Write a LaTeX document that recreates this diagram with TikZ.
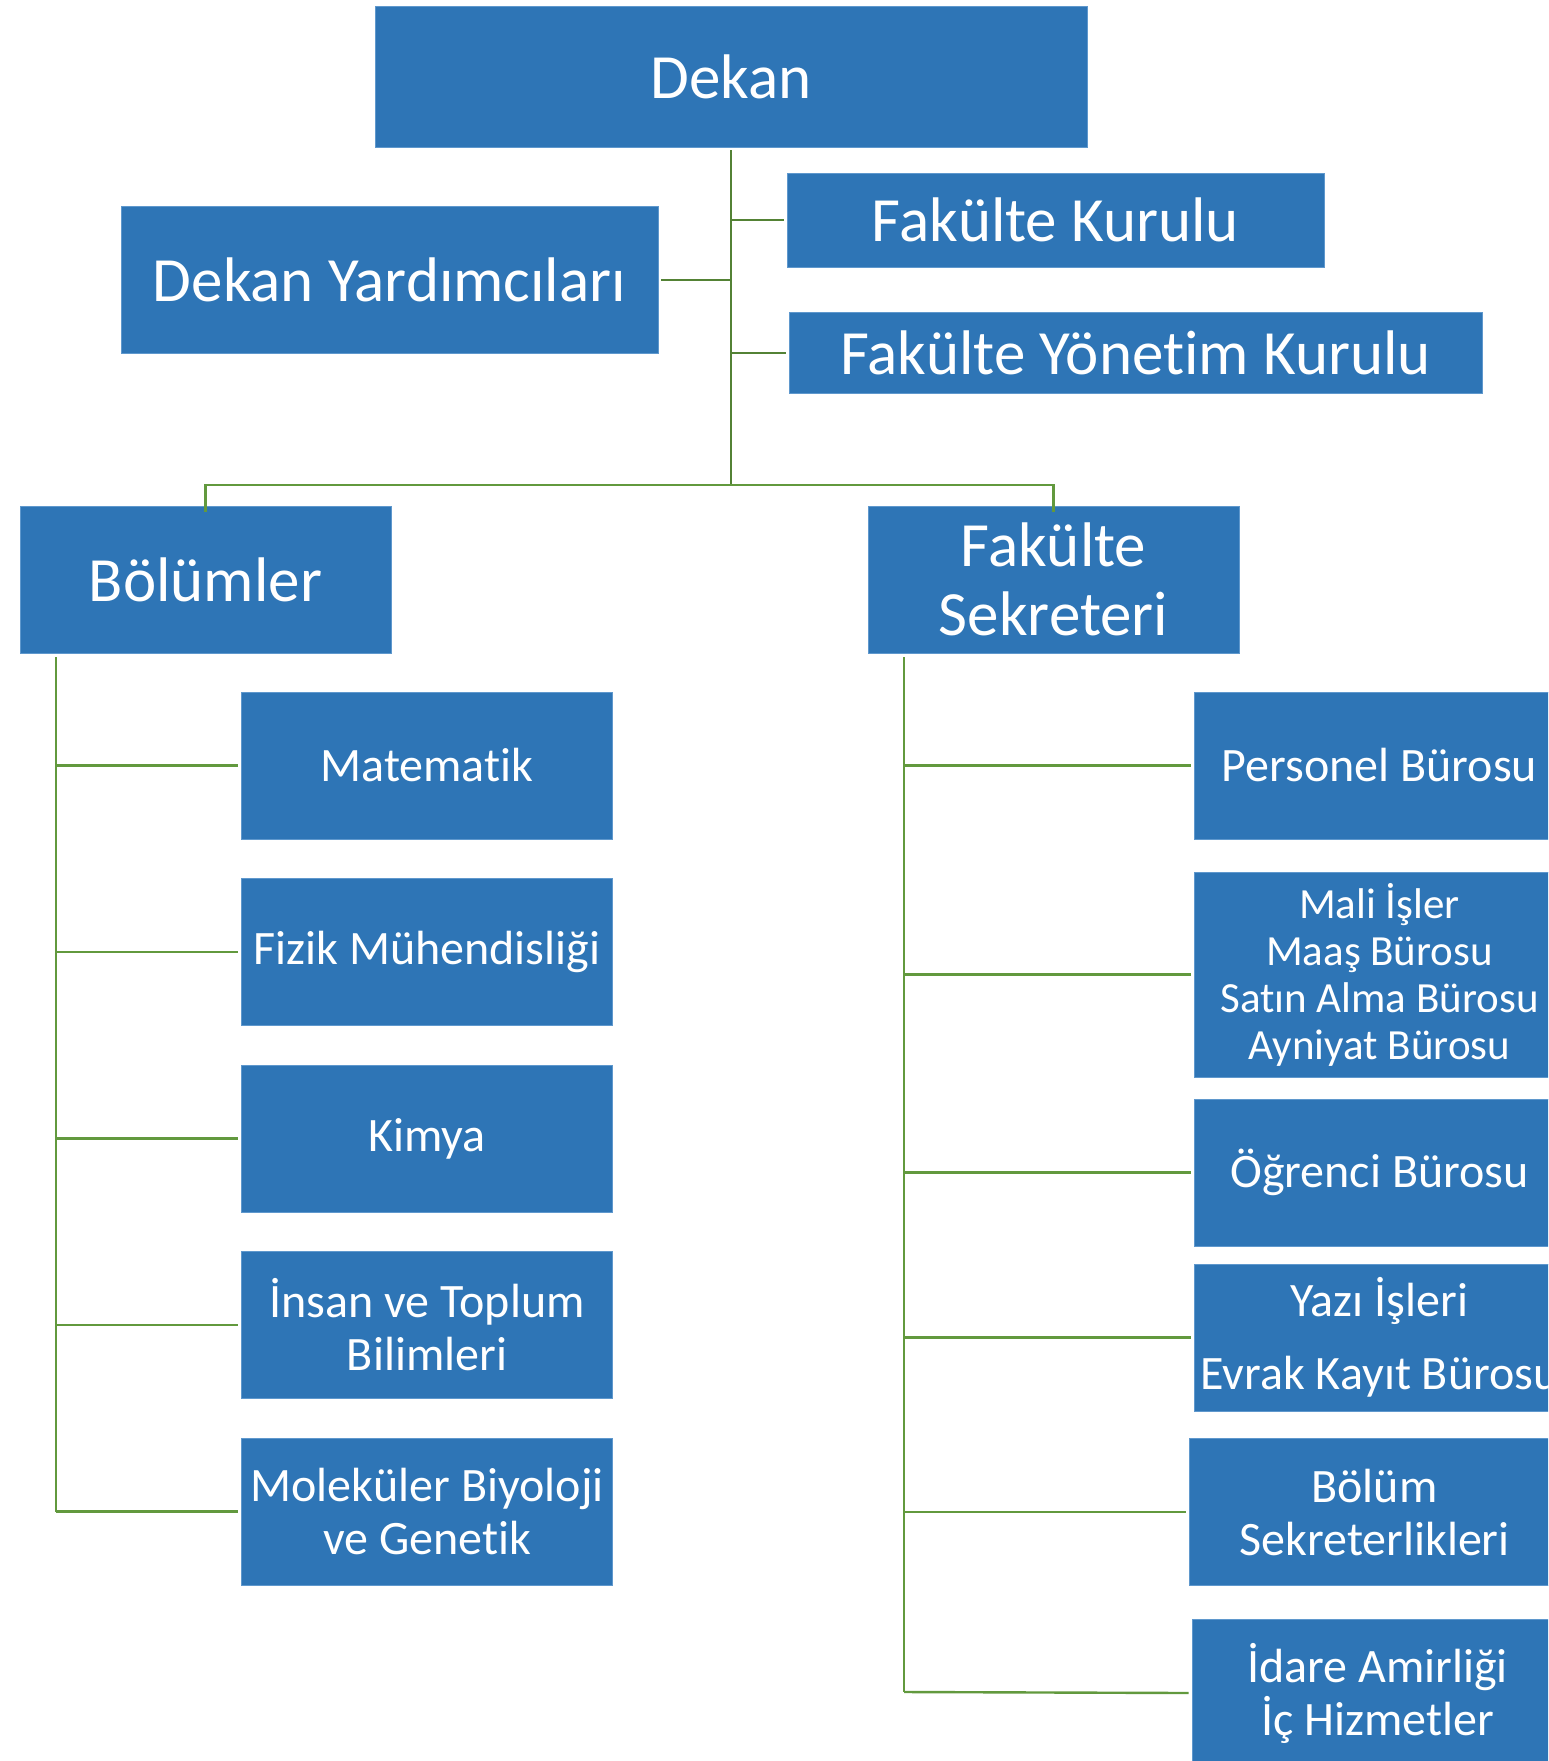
\documentclass[tikz,border=0pt]{standalone}
\usepackage{fontspec}
\setmainfont{Carlito}[Ligatures=NoCommon]
\usepackage{xcolor}
\usepackage{tikz}
\definecolor{boxblue}{HTML}{2E75B6}
\definecolor{edgeblue}{HTML}{5F98CD}
\definecolor{linkgreen}{HTML}{62993E}
\tikzset{
  box/.style={fill=boxblue, draw=edgeblue, line width=0.8pt, text=white,
    inner sep=0pt, align=center},
  head/.style={box, font=\fontsize{63}{69}\selectfont},
  unit/.style={box, minimum width=371pt, minimum height=147pt,
    font=\fontsize{48}{53}\selectfont},
  link/.style={draw=linkgreen, line width=2.4pt},
  trunk/.style={draw=linkgreen!85!black, line width=2pt}
}

\begin{document}
\begin{tikzpicture}[x=1pt, y=-1pt]
  \path[use as bounding box, clip] (0,0) rectangle (1548,1761);

  % top level
  \node[head, minimum width=712pt, minimum height=141pt] (dekan) at (731,76.5) {Dekan};
  \node[head, minimum width=537pt, minimum height=94pt] (kurul) at (1055.5,220) {Fakülte Kurulu};
  \node[head, minimum width=537pt, minimum height=147pt] (yard) at (389.5,279.5) {Dekan Yardımcıları};
  \node[head, minimum width=693pt, minimum height=81pt] (ykurul) at (1135.5,352.5) {Fakülte Yönetim Kurulu};
  \node[head, minimum width=371pt, minimum height=147pt] (bolum) at (205.5,579.5) {Bölümler};
  \node[head, minimum width=371pt, minimum height=147pt] (sekr) at (1053.5,579.5) {Fakülte\\Sekreteri};

  % departments
  \node[unit] (mat) at (427,765.5) {Matematik};
  \node[unit] (fiz) at (427,952) {Fizik Mühendisliği};
  \node[unit] (kim) at (427,1138.5) {Kimya};
  \node[unit] (ins) at (427,1325) {İnsan ve Toplum\\Bilimleri};
  \node[unit] (mol) at (427,1511.5) {Moleküler Biyoloji\\ve Genetik};

  % offices
  \node[unit] (pers) at (1379.5,765.5) {Personel Bürosu};
  \node[unit, minimum height=205pt, font=\fontsize{43}{47}\selectfont] (mali) at (1379.5,974.5)
    {Mali İşler\\Maaş Bürosu\\Satın Alma Bürosu\\Ayniyat Bürosu};
  \node[unit] (ogr) at (1379.5,1172.5) {Öğrenci Bürosu};
  \node[unit] (yazi) at (1379.5,1337.5) {Yazı İşleri\\[20pt]Evrak Kayıt Bürosu};
  \node[unit] (bsek) at (1374.5,1512) {Bölüm\\Sekreterlikleri};
  \node[unit] (idare) at (1377.5,1693) {İdare Amirliği\\İç Hizmetler};

  \coordinate (bar) at (731,485);
  \coordinate (lrail) at (56,1511.5);
  \coordinate (rrail) at (904,1692);

  % links under the dean
  \draw[trunk] ([yshift=-3pt]dekan.south) -- (bar);
  \draw[trunk] (dekan.south |- kurul.west) -- ([xshift=-3pt]kurul.west);
  \draw[trunk] (dekan.south |- yard.east) -- ([xshift=3pt]yard.east);
  \draw[trunk] (dekan.south |- ykurul.west) -- ([xshift=-3pt]ykurul.west);
  \draw[link] ([yshift=-6pt]bolum.north) -- (bolum.north |- bar) -- (sekr.north |- bar)
    -- ([yshift=-6pt]sekr.north);

  % departments
  \draw[link] (lrail |- bolum.south) ++(0,4) -- (lrail);
  \draw[link] (lrail |- mat.west) -- ([xshift=-3pt]mat.west);
  \draw[link] (lrail |- fiz.west) -- ([xshift=-3pt]fiz.west);
  \draw[link] (lrail |- kim.west) -- ([xshift=-3pt]kim.west);
  \draw[link] (lrail |- ins.west) -- ([xshift=-3pt]ins.west);
  \draw[link] (lrail) -- ([xshift=-3pt]mol.west);

  % offices
  \draw[link] (rrail |- sekr.south) ++(0,4) -- (rrail);
  \draw[link] (rrail |- pers.west) -- ([xshift=-3pt]pers.west);
  \draw[link] (rrail |- mali.west) -- ([xshift=-3pt]mali.west);
  \draw[link] (rrail |- ogr.west) -- ([xshift=-3pt]ogr.west);
  \draw[link] (rrail |- yazi.west) -- ([xshift=-3pt]yazi.west);
  \draw[link] (rrail |- bsek.west) -- ([xshift=-3pt]bsek.west);
  \draw[link] (rrail) -- ([xshift=-3pt]idare.west);
\end{tikzpicture}
\end{document}
